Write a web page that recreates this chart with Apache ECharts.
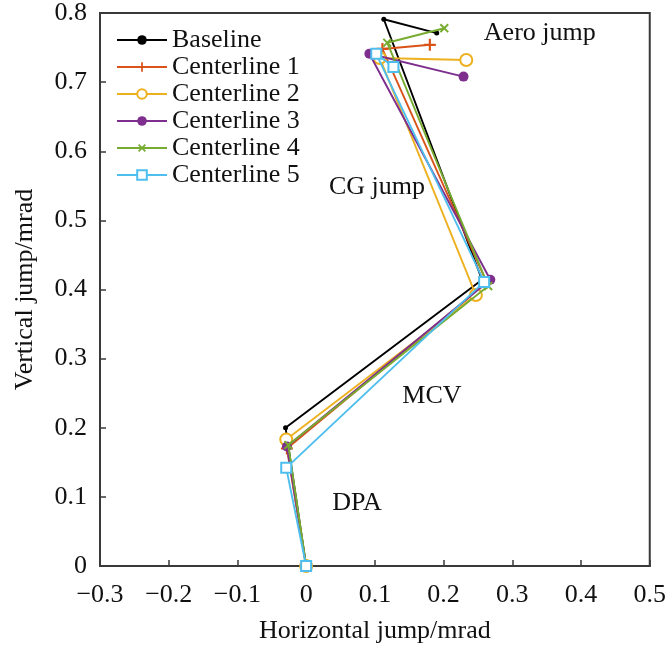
<!DOCTYPE html>
<html>
<head>
<meta charset="utf-8">
<script src="https://cdn.jsdelivr.net/npm/echarts@6/dist/echarts.min.js"></script>
<style>html,body{margin:0;padding:0;background:#fff;}#c{width:669px;height:649px;}</style>
</head>
<body>
<div id="c"></div>
<script>
// Data (x = horizontal jump, y = vertical jump), mrad
const seriesNames = ["Baseline", "Centerline 1", "Centerline 2", "Centerline 3", "Centerline 4", "Centerline 5"];
const baseline    = [[0, 0], [-0.030, 0.200], [0.256, 0.414], [0.113, 0.791], [0.190, 0.771]];
const centerline1 = [[0, 0], [-0.028, 0.170], [0.263, 0.410], [0.111, 0.748], [0.180, 0.754]];
const centerline2 = [[0, 0], [-0.029, 0.183], [0.247, 0.392], [0.107, 0.735], [0.233, 0.732]];
const centerline3 = [[0, 0], [-0.028, 0.173], [0.268, 0.414], [0.092, 0.741], [0.229, 0.708]];
const centerline4 = [[0, 0], [-0.026, 0.175], [0.265, 0.405], [0.118, 0.757], [0.201, 0.778]];
const centerline5 = [[0, 0], [-0.029, 0.142], [0.259, 0.411], [0.102, 0.741], [0.127, 0.722]];
const annotations = [
  {name: "Aero jump", value: [0.340, 0.771]},
  {name: "CG jump",   value: [0.103, 0.548]},
  {name: "MCV",       value: [0.183, 0.246]},
  {name: "DPA",       value: [0.074, 0.091]}
];
const xTicks = {min: -0.3, max: 0.5, interval: 0.1};
const yTicks = {min: 0, max: 0.8, interval: 0.1};

const FONT = "Liberation Serif";
const FS = 26;
const TXT = '#111111';
const colors = ["#000000", "#D95319", "#EDB120", "#7E2F8E", "#77AC30", "#4DBEEE"];
const plus = 'path://M4.1,0h1.8v10h-1.8zM0,4.1h10v1.8h-10z';
const symbols = ['circle', plus, 'emptyCircle', 'circle', plus, 'emptyRect'];
const symSizes = [5, 12, 12, 10, 11, 10];
const symRot = [0, 0, 0, 0, 45, 0];
const datas = [baseline, centerline1, centerline2, centerline3, centerline4, centerline5];

const series = datas.map((d, i) => ({
  name: seriesNames[i],
  type: 'line',
  data: d,
  symbol: symbols[i],
  symbolSize: symSizes[i],
  symbolRotate: symRot[i],
  showAllSymbol: true,
  lineStyle: {color: colors[i], width: 1.9},
  itemStyle: {color: colors[i], borderColor: colors[i], borderWidth: (i === 2 || i === 5) ? 2 : 0},
  z: 3 + i,
  animation: false
}));
series.push({
  type: 'scatter',
  data: annotations,
  symbolSize: 1,
  silent: true,
  itemStyle: {opacity: 0},
  label: {show: true, position: 'inside', formatter: p => p.name, fontFamily: FONT, fontSize: FS, color: TXT, opacity: 1},
  animation: false
});

const chart = echarts.init(document.getElementById('c'));
chart.setOption({
  animation: false,
  backgroundColor: '#fff',
  color: colors,
  grid: {left: 100, right: 19, top: 12, bottom: 81, show: true, borderColor: '#3a3a3a', borderWidth: 2, containLabel: false},
  legend: {
    data: seriesNames,
    orient: 'vertical',
    left: 111, top: 22,
    itemWidth: 50, itemHeight: 12, itemGap: 1,
    textStyle: {fontFamily: FONT, fontSize: FS, color: TXT, lineHeight: 25}
  },
  xAxis: {
    type: 'value', min: xTicks.min, max: xTicks.max, interval: xTicks.interval,
    name: 'Horizontal jump/mrad', nameLocation: 'middle', nameGap: 52,
    nameTextStyle: {fontFamily: FONT, fontSize: FS, color: TXT},
    axisLine: {show: true, onZero: false, lineStyle: {color: '#3a3a3a', width: 2}},
    axisTick: {show: true, inside: true, length: 6, lineStyle: {color: '#3a3a3a', width: 1.5}},
    axisLabel: {fontFamily: FONT, fontSize: FS, color: TXT, margin: 16,
      formatter: v => { const s = (Math.round(v * 10) / 10).toString(); return s.replace('-', '\u2212'); }},
    splitLine: {show: false}
  },
  yAxis: {
    type: 'value', min: yTicks.min, max: yTicks.max, interval: yTicks.interval,
    name: 'Vertical jump/mrad', nameLocation: 'middle', nameGap: 62,
    nameTextStyle: {fontFamily: FONT, fontSize: FS, color: TXT},
    axisLine: {show: true, onZero: false, lineStyle: {color: '#3a3a3a', width: 2}},
    axisTick: {show: true, inside: true, length: 6, lineStyle: {color: '#3a3a3a', width: 1.5}},
    axisLabel: {fontFamily: FONT, fontSize: FS, color: TXT, margin: 13,
      formatter: v => (Math.round(v * 10) / 10).toString()},
    splitLine: {show: false}
  },
  series: series
});
</script>
</body>
</html>
